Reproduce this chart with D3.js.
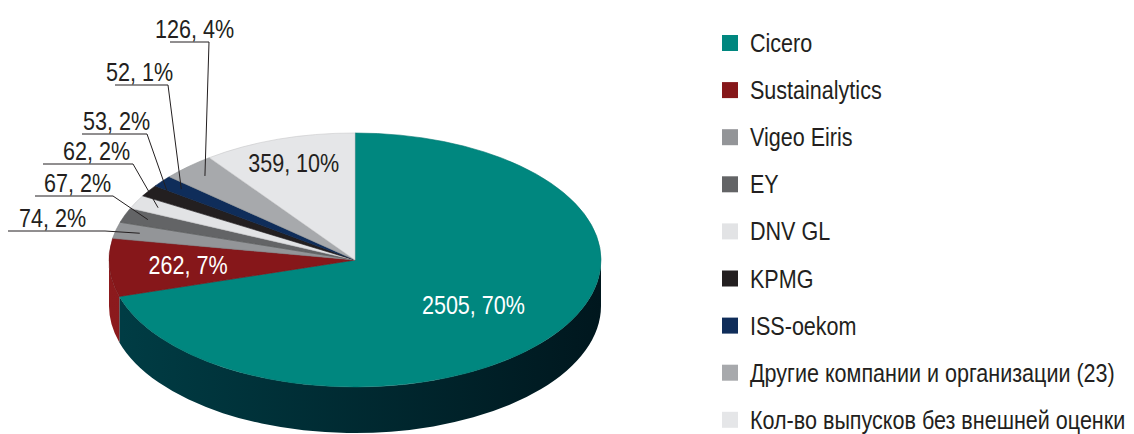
<!DOCTYPE html>
<html>
<head>
<meta charset="utf-8">
<script src="https://cdn.jsdelivr.net/npm/d3@7"></script>
<style>
  html, body { margin: 0; padding: 0; background: #fff; }
  svg { display: block; font-family: "Liberation Sans", Arial, sans-serif; }
</style>
</head>
<body>
<svg id="chart" width="1134" height="434"></svg>
<script>
// ── Data ──────────────────────────────────────────────────────────────────────
const names    = ['Cicero', 'Sustainalytics', 'Vigeo Eiris', 'EY', 'DNV GL', 'KPMG', 'ISS-oekom',
                  'Другие компании и организации (23)', 'Кол-во выпусков без внешней оценки'];
const counts   = [2505, 262, 74, 67, 62, 53, 52, 126, 359];
const percents = [70, 7, 2, 2, 2, 2, 1, 4, 10];

// ── Style ─────────────────────────────────────────────────────────────────────
const topColors  = ['#00877f', '#86171a', '#939598', '#636466', '#e2e3e5', '#231f20', '#0f2d5a', '#a7a9ac', '#e5e6e8'];
const sideColors = [['#003d45', '#00171e'], ['#8c1a1d', '#761214']];
const INK = '#231f20';
const FS = 25.5;      // label size; text is squeezed to look like Arial Narrow
const NARROW = 0.845;

const cx = 355, cy = 260, rx = 246, ry = 127, depth = 46;
const k = ry / rx;

// inside labels: radius fraction of the slice centroid
const insideR = { 0: 0.6, 1: 0.68, 8: 0.8 };
// outside labels: [text x, baseline y, underline x0, x1]
const outsideLayout = {
  2: [19, 227, 8, 105],
  3: [44, 192, 35, 113],
  4: [63, 160, 43, 133],
  5: [83, 130, 82, 147],
  6: [106, 81, 115, 168],
  7: [155, 38, 170, 209],
};

const svg  = d3.select('#chart');
const defs = svg.append('defs');

const pie  = d3.pie().sort(null).value(d => d.value);
const data = names.map((n, i) => ({ name: n, value: counts[i], pct: percents[i] }));
const arcs = pie(data);

// narrow text helper (real text, compressed horizontally)
function narrowText(parent, x, y, str, size, fill, anchor = 'start') {
  return parent.append('text')
    .attr('transform', `translate(${x},${y}) scale(${NARROW},1)`)
    .attr('text-anchor', anchor)
    .attr('font-size', size)
    .attr('fill', fill)
    .text(str);
}

// side gradients
sideColors.forEach(([a, b], i) => {
  const gr = defs.append('linearGradient').attr('id', 'side' + i)
    .attr('gradientUnits', 'userSpaceOnUse')
    .attr('x1', -rx).attr('x2', rx).attr('y1', 0).attr('y2', 0);
  gr.append('stop').attr('offset', 0).attr('stop-color', a);
  gr.append('stop').attr('offset', 1).attr('stop-color', b);
});

// the pie is drawn in circle space and squashed vertically
const g = svg.append('g').attr('transform', `translate(${cx},${cy}) scale(1,${k})`);

// ── Side walls (front half only) ─────────────────────────────────────────────
const D = depth / k;
arcs.forEach(a => {
  const a0 = Math.max(a.startAngle, Math.PI / 2);
  const a1 = Math.min(a.endAngle, Math.PI * 1.5);
  if (a1 <= a0) return;
  const p = d3.path();
  p.moveTo(rx * Math.sin(a0), -rx * Math.cos(a0));
  p.arc(0, 0, rx, a0 - Math.PI / 2, a1 - Math.PI / 2);
  p.lineTo(rx * Math.sin(a1), -rx * Math.cos(a1) + D);
  p.arc(0, D, rx, a1 - Math.PI / 2, a0 - Math.PI / 2, true);
  p.closePath();
  g.append('path').attr('d', p.toString())
    .attr('fill', a.index < 2 ? `url(#side${a.index})` : topColors[a.index]);
});

// ── Top face ──────────────────────────────────────────────────────────────────
const arc = d3.arc().innerRadius(0).outerRadius(rx);
g.selectAll('path.slice')
  .data(arcs)
  .enter().append('path')
  .attr('class', 'slice')
  .attr('d', arc)
  .attr('fill', d => topColors[d.index])
  .attr('stroke', d => d3.color(topColors[d.index]).darker(0.4))
  .attr('stroke-width', 0.6)
  .attr('vector-effect', 'non-scaling-stroke');

// ── Labels ────────────────────────────────────────────────────────────────────
const labelText = d => `${d.data.value}, ${d.data.pct}%`;
const ellPoint = (angle, r) => [cx + r * rx * Math.sin(angle), cy - r * ry * Math.cos(angle)];

arcs.filter(d => insideR[d.index]).forEach(d => {
  const [x, y] = ellPoint((d.startAngle + d.endAngle) / 2, insideR[d.index]);
  narrowText(svg, x, y + 9, labelText(d), FS, d.index === 8 ? INK : '#fff', 'middle');
});

arcs.filter(d => outsideLayout[d.index]).forEach(d => {
  const [tx, ty, ux0, ux1] = outsideLayout[d.index];
  const [px, py] = ellPoint((d.startAngle + d.endAngle) / 2, 0.9);
  svg.append('polyline')
    .attr('points', `${ux0},${ty + 4} ${ux1},${ty + 4} ${px},${py}`)
    .attr('fill', 'none')
    .attr('stroke', INK)
    .attr('stroke-width', 1);
  narrowText(svg, tx, ty, labelText(d), FS, INK);
});

// ── Legend ───────────────────────────────────────────────────────────────────
const leg = svg.append('g').attr('transform', 'translate(722,43)');
names.forEach((n, i) => {
  const row = leg.append('g').attr('transform', `translate(0,${i * 47.1})`);
  row.append('rect').attr('x', 0).attr('y', -8).attr('width', 16).attr('height', 16)
    .attr('fill', topColors[i]);
  narrowText(row, 28, 9, n, FS, INK);
});
</script>
</body>
</html>
